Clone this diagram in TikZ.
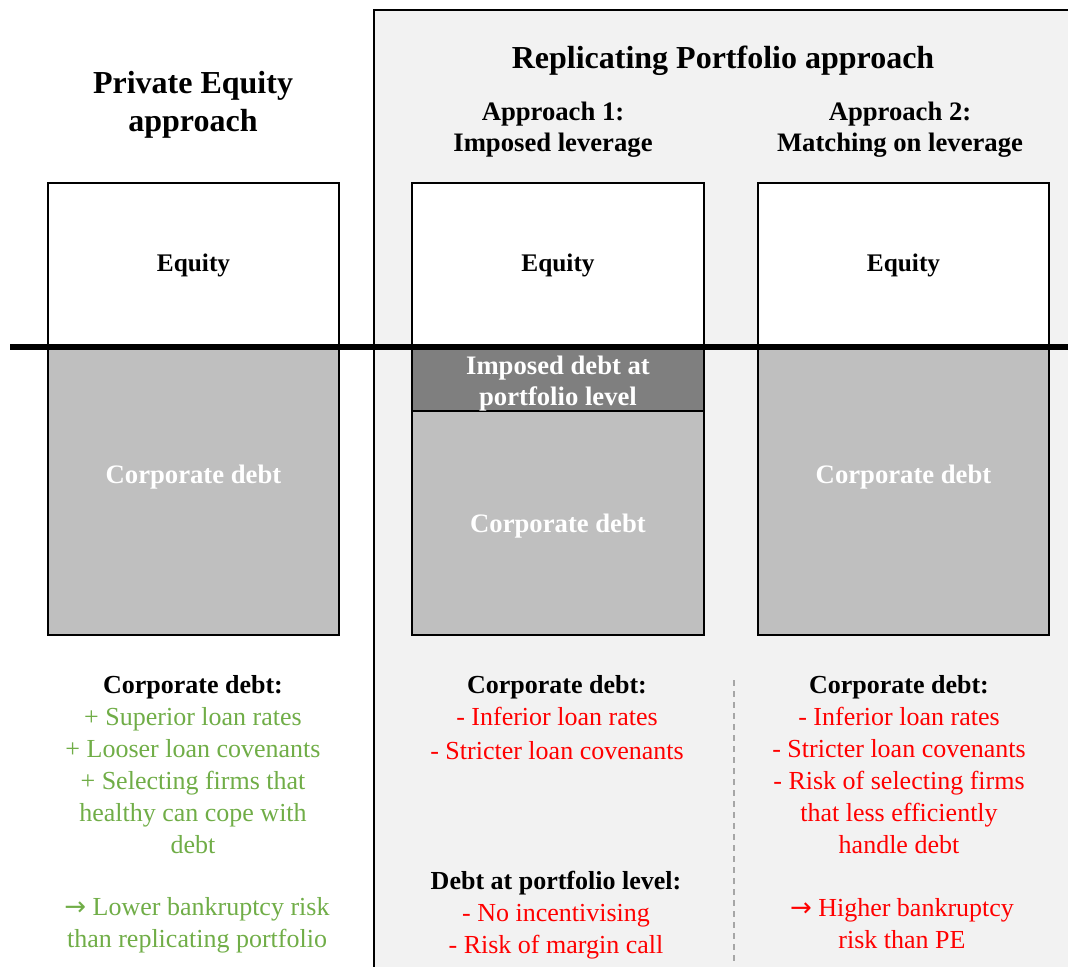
\documentclass[tikz,border=0pt]{standalone}
\usepackage{fontspec}
\setmainfont{LiberationSerif}[Extension=.ttf,UprightFont=*-Regular,BoldFont=*-Bold,
  ItalicFont=*-Italic,BoldItalicFont=*-BoldItalic]
\newfontfamily\arrowfont{DejaVu Sans}
\usetikzlibrary{positioning}
\definecolor{panelgray}{RGB}{242,242,242}
\definecolor{debtgray}{RGB}{191,191,191}
\definecolor{imposedgray}{RGB}{127,127,127}
\definecolor{dashgray}{RGB}{166,166,166}
\definecolor{good}{RGB}{112,173,71}
\definecolor{bad}{RGB}{255,0,0}

\begin{document}
\begin{tikzpicture}[x=0.75pt,y=-0.75pt,
    head/.style={font=\fontsize{24}{28.5}\selectfont\bfseries,align=center,inner sep=0pt},
    subhead/.style={font=\fontsize{20}{23.25}\selectfont\bfseries,align=center,inner sep=0pt},
    eqbox/.style={draw,line width=1.5pt,fill=white,minimum width=218.5pt,minimum height=123pt,
      inner sep=0pt,font=\fontsize{19}{22}\selectfont\bfseries},
    debtbox/.style={draw,line width=1.5pt,fill=debtgray,minimum width=218.5pt,inner sep=0pt},
    debtlabel/.style={text=white,font=\fontsize{20}{23.25}\selectfont\bfseries,align=center,inner sep=0pt},
    notes/.style={font=\fontsize{19.5}{24}\selectfont,align=center,inner sep=0pt,anchor=north}]
  \useasboundingbox (0,0) rectangle (1068,967);
  \clip (0,0) rectangle (1068,967);

  % replicating portfolio panel
  \draw[line width=1.5pt,fill=panelgray] (374,10) rectangle (1090,990);

  % headings
  \node[head] (pehead) at (193,105) {Private Equity\\approach};
  \node[head] (rphead) at (723,61) {Replicating Portfolio approach};
  \node[subhead] (a1head) at (553,130) {Approach 1:\\Imposed leverage};
  \node[subhead] (a2head) at (900,130) {Approach 2:\\Matching on leverage};

  % capital structures
  \node[eqbox] (eq1) at (193.5,265) {Equity};
  \node[eqbox] (eq2) at (558,265) {Equity};
  \node[eqbox] (eq3) at (903.5,265) {Equity};
  \node[debtbox,minimum height=216pt] (debt1) at (193.5,491) {};
  \node[debtbox,minimum height=48pt,fill=imposedgray] (imp2) at (558,379) {};
  \node[debtbox,minimum height=168pt] (debt2) at (558,523) {};
  \node[debtbox,minimum height=216pt] (debt3) at (903.5,491) {};
  \node[debtlabel] (debt1lbl) at (193.5,477) {Corporate debt};
  \node[debtlabel] (imp2lbl) at (558,384) {Imposed debt at\\portfolio level};
  \node[debtlabel] (debt2lbl) at (558,526) {Corporate debt};
  \node[debtlabel] (debt3lbl) at (903.5,477) {Corporate debt};

  % equity / debt split
  \draw[line width=4.5pt] (10,347) -- (1068,347);

  % separator between the two approaches
  \draw[dashgray,line width=1.5pt,dash pattern=on 4.5pt off 3.75pt] (734,680) -- (734,962);

  % pros and cons
  \node[notes,text=good] (pe) at (193,675)
    {\textcolor{black}{\bfseries Corporate debt:}\\+ Superior loan rates\\+ Looser loan covenants\\
     + Selecting firms that\\healthy can cope with\\debt};
  \node[notes,text=good] (pe2) at (197,897) {{\arrowfont →} Lower bankruptcy risk\\than replicating portfolio};
  \node[notes,text=bad] (rp1) at (557,675)
    {\textcolor{black}{\bfseries Corporate debt:}\\- Inferior loan rates\\[2pt]- Stricter loan covenants};
  \node[notes,text=bad] (rp1b) at (556,871)
    {\textcolor{black}{\bfseries Debt at portfolio level:}\\- No incentivising\\- Risk of margin call};
  \node[notes,text=bad] (rp2) at (899,675)
    {\textcolor{black}{\bfseries Corporate debt:}\\- Inferior loan rates\\- Stricter loan covenants\\
     - Risk of selecting firms\\that less efficiently\\handle debt};
  \node[notes,text=bad] (rp2b) at (902,898) {{\arrowfont →} Higher bankruptcy\\risk than PE};
\end{tikzpicture}
\end{document}
